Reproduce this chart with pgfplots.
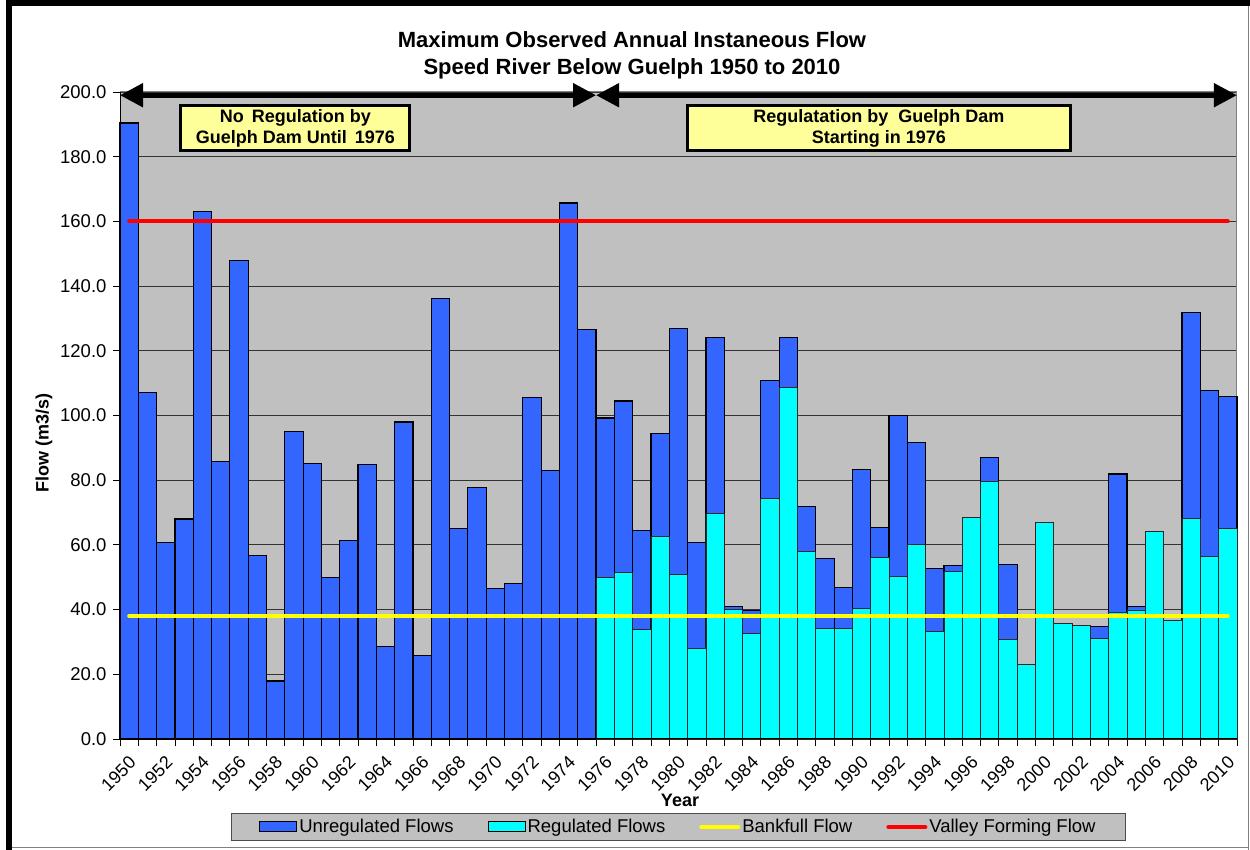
\documentclass[border=0pt]{standalone}
\usepackage{fontspec}
\setmainfont{Liberation Sans}
\usepackage{pgfplots}
\pgfplotsset{compat=1.18}
\usetikzlibrary{arrows.meta}
\definecolor{ublue}{HTML}{3366FF}
\definecolor{rcyan}{HTML}{00FFFF}
\definecolor{pgrey}{HTML}{C0C0C0}
\definecolor{boxyel}{HTML}{FFFF99}
\definecolor{bankyel}{HTML}{FFFF00}
\definecolor{valred}{HTML}{FF0000}
\begin{document}
\begin{tikzpicture}[x=1pt,y=1pt]
\path[use as bounding box, fill=white] (0,0) rectangle (1250,850);
\fill[black] (6,0) rectangle (12,850);
\fill[black] (6,844) rectangle (1250,850);
\draw[gray, line width=1pt] (1248,0) -- (1248,844);
\draw[gray, line width=1pt] (12,2) -- (1248,2);
\begin{axis}[
  at={(120pt,111pt)}, anchor=south west,
  scale only axis, width=1117pt, height=647pt,
  xmin=1949.5, xmax=2010.5, ymin=0, ymax=200,
  clip=false,
  axis background/.style={fill=pgrey},
  axis line style={draw=gray, line width=1pt},
  xtick={1950,1952,...,2010},
  minor xtick={1949.5,1950.5,...,2010.5},
  ytick={0,20,...,200},
  xtick pos=bottom, ytick pos=left,
  tick align=outside,
  major tick length=7pt, minor tick length=7pt,
  tick style={black, line width=0.8pt},
  major x tick style={draw=none},
  ymajorgrids,
  major grid style={black!80, line width=0.8pt},
  x tick label style={font=\fontsize{18}{18}\selectfont, xshift=-1pt, yshift=-4pt, rotate=45, anchor=north east,
     /pgf/number format/1000 sep={}, /pgf/number format/assume math mode=true},
  y tick label style={font=\fontsize{18.5}{18.5}\selectfont, xshift=-3pt,
     /pgf/number format/fixed, /pgf/number format/fixed zerofill,
     /pgf/number format/precision=1, /pgf/number format/assume math mode=true},
  legend style={at={(0.5,-0.136)}, anchor=center, legend columns=4,
     fill=pgrey, draw=black!70, line width=1pt,
     font=\fontsize{18.5}{18.5}\selectfont,
     nodes={inner sep=2pt},
     inner xsep=28pt, inner ysep=4pt,
     /tikz/every even column/.append style={column sep=32pt}},
]
\addplot[ybar, bar width=1, bar shift=0pt, fill=ublue, draw=black, line width=1.2pt,
  legend image code/.code={\draw[fill=ublue,draw=black,line width=1pt] (0pt,-5pt) rectangle (37pt,5pt);}]
coordinates {
(1950,190.4) (1951,107.1) (1952,60.8) (1953,68.0) (1954,163.0) (1955,85.9)
(1956,148.0) (1957,56.8) (1958,17.9) (1959,95.0) (1960,85.2) (1961,49.9)
(1962,61.4) (1963,84.9) (1964,28.5) (1965,98.0) (1966,25.9) (1967,136.2)
(1968,65.0) (1969,77.8) (1970,46.4) (1971,48.0) (1972,105.6) (1973,83.1)
(1974,165.7) (1975,126.7) (1976,99.2) (1977,104.5) (1978,64.4) (1979,94.5)
(1980,127.0) (1981,60.8) (1982,124.0) (1983,40.9) (1984,39.6) (1985,110.7)
(1986,124.0) (1987,71.8) (1988,55.9) (1989,46.9) (1990,83.2) (1991,65.5)
(1992,100.0) (1993,91.7) (1994,52.6) (1995,53.6) (1996,66.0) (1997,86.9)
(1998,53.9) (1999,23.0) (2000,57.0) (2001,35.0) (2002,34.5) (2003,34.8)
(2004,81.9) (2005,40.9) (2006,60.0) (2007,36.5) (2008,131.9) (2009,107.8)
(2010,105.9)
};
\addlegendentry{Unregulated Flows}
\addplot[ybar, bar width=1, bar shift=0pt, fill=rcyan, draw=black!85, line width=0.8pt,
  legend image code/.code={\draw[fill=rcyan,draw=black,line width=1pt] (0pt,-5pt) rectangle (37pt,5pt);}]
coordinates {
(1976,50.0) (1977,51.6) (1978,33.9) (1979,62.7) (1980,50.9) (1981,27.9)
(1982,69.7) (1983,40.0) (1984,32.6) (1985,74.4) (1986,108.8) (1987,57.9)
(1988,34.1) (1989,34.1) (1990,40.4) (1991,56.0) (1992,50.3) (1993,60.2)
(1994,33.2) (1995,51.7) (1996,68.4) (1997,79.7) (1998,30.7) (1999,23.1)
(2000,66.9) (2001,35.6) (2002,35.0) (2003,31.2) (2004,39.2) (2005,39.9)
(2006,64.2) (2007,36.7) (2008,68.2) (2009,56.5) (2010,65.1)
};
\addlegendentry{Regulated Flows}
\addplot[bankyel, line width=4pt, line cap=round,
  legend image code/.code={\draw[bankyel,line width=4pt] (0pt,0pt) -- (37pt,0pt);}]
coordinates {(1950,38) (2010,38)};
\addlegendentry{Bankfull Flow}
\addplot[valred, line width=4pt, line cap=round,
  legend image code/.code={\draw[valred,line width=4pt] (0pt,0pt) -- (37pt,0pt);}]
coordinates {(1950,160) (2010,160)};
\addlegendentry{Valley Forming Flow}
% left and bottom axis lines in black
\draw[black, line width=1pt] (rel axis cs:0,0) -- (rel axis cs:0,1);
\draw[black, line width=1pt] (rel axis cs:0,0) -- (rel axis cs:1,0);
% period arrows
\draw[line width=5pt, {Triangle[length=23pt,width=23pt]}-{Triangle[length=23pt,width=23pt]}]
  (axis cs:1949.5,199) -- (axis cs:1975.5,199);
\draw[line width=5pt, {Triangle[length=23pt,width=23pt]}-{Triangle[length=23pt,width=23pt]}]
  (axis cs:1975.5,199) -- (axis cs:2010.5,199);
\node[draw=black, line width=3pt, fill=boxyel, minimum width=229pt, minimum height=45pt,
  align=center, inner sep=0pt, font=\bfseries\fontsize{18}{21}\selectfont]
  at (axis cs:1959.08,188.9) {No\hspace{0.45em}Regulation by\\Guelph Dam Until\hspace{0.45em}1976};
\node[draw=black, line width=3pt, fill=boxyel, minimum width=383pt, minimum height=45pt,
  align=center, inner sep=0pt, font=\bfseries\fontsize{18}{21}\selectfont]
  at (axis cs:1990.95,188.9) {Regulatation by\ \ Guelph Dam\\Starting in 1976};
\end{axis}
\node[font=\bfseries\fontsize{22}{26.5}\selectfont, align=center] at (632,794.5)
  {Maximum Observed Annual Instaneous Flow\\Speed River Below Guelph 1950 to 2010};
\node[rotate=90, font=\bfseries\fontsize{18}{18}\selectfont] at (44,407) {Flow (m3/s)};
\node[font=\bfseries\fontsize{18}{18}\selectfont] at (680,50) {Year};
\end{tikzpicture}
\end{document}
